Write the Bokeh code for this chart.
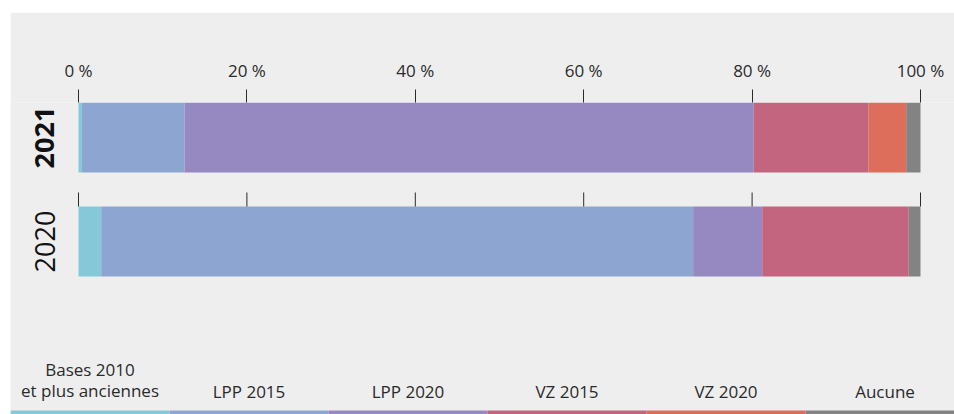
import math
from bokeh.plotting import figure
from bokeh.models import ColumnDataSource, Range1d, FixedTicker
from bokeh.core.properties import value
from bokeh.embed import file_html
from bokeh.resources import INLINE

# ---------------- data ----------------
categories = ["2021", "2020"]
category_styles = ["bold", "normal"]
series = ["Bases 2010 et plus anciennes", "LPP 2015", "LPP 2020", "VZ 2015", "VZ 2020", "Aucune"]
legend_labels = ["Bases 2010\net plus anciennes", "LPP 2015", "LPP 2020", "VZ 2015", "VZ 2020", "Aucune"]
bases_2010 = [0.4, 2.7]
lpp_2015 = [12.2, 70.3]
lpp_2020 = [67.6, 8.2]
vz_2015 = [13.6, 17.4]
vz_2020 = [4.5, 0.0]
aucune = [1.7, 1.4]
tick_values = [0, 20, 40, 60, 80, 100]
tick_labels = ["0 %", "20 %", "40 %", "60 %", "80 %", "100 %"]

colors = ["#85c9d9", "#8ca6d1", "#9689c1", "#c4657f", "#dc6e5b", "#838383"]

# ---------------- styling / layout (pixels) ----------------
FONT = "Open Sans"
BG = "#eeeeee"
TXT = "#2a2a2a"
W, H = 944, 402
TOP = 90                       # space for the axis above
LEFT_PX, RIGHT_PX = 68, 34     # where 0 % and 100 % sit inside the figure
PX_PER_PCT = (W - LEFT_PX - RIGHT_PX) / 100.0
PX_PER_UNIT = 104.0            # vertical pixels between bar centres
BAR_H = 70 / PX_PER_UNIT
TICK_LEN = 14 / PX_PER_UNIT
ITEM_W = 159                   # legend item width in px

pos = list(range(len(categories)))[::-1]
keys = ["s%d" % i for i in range(len(series))]
source = ColumnDataSource(dict(pos=pos, cat=categories, style=category_styles,
                               s0=bases_2010, s1=lpp_2015, s2=lpp_2020,
                               s3=vz_2015, s4=vz_2020, s5=aucune))

x0 = -LEFT_PX / PX_PER_PCT
x1 = 100 + RIGHT_PX / PX_PER_PCT
y_top = max(pos) + BAR_H / 2
y_bot = y_top - (H - TOP) / PX_PER_UNIT

p = figure(width=W, height=H, output_backend="svg", toolbar_location=None,
           x_range=Range1d(x0, x1), y_range=Range1d(y_bot, y_top),
           x_axis_location="above", min_border_left=0, min_border_right=0,
           min_border_top=TOP, min_border_bottom=0,
           background_fill_color=BG, border_fill_color=BG, outline_line_color=None,
           margin=(12, 0, 0, 10))

p.hbar_stack(keys, y="pos", height=BAR_H, color=colors, line_color=None, source=source)

# tick marks above the lower bar
lower_top = [min(pos) + BAR_H / 2] * len(tick_values)
p.segment(x0=tick_values, x1=tick_values, y0=lower_top,
          y1=[v + TICK_LEN for v in lower_top], line_color=TXT, line_width=1)

# year labels
p.text(x=0, y="pos", text="cat", source=source, angle=math.pi / 2,
       x_offset=-34, text_align="center", text_baseline="middle",
       text_font=value(FONT), text_font_size="27px", text_font_style="style",
       text_color="#111111")

ax = p.xaxis[0]
ax.ticker = FixedTicker(ticks=tick_values)
ax.major_label_overrides = {t: l for t, l in zip(tick_values, tick_labels)}
ax.axis_line_color = None
ax.major_tick_in = 0
ax.major_tick_out = 13
ax.major_tick_line_color = TXT
ax.minor_tick_line_color = None
ax.major_label_standoff = 8
ax.major_label_text_font = FONT
ax.major_label_text_font_size = "17px"
ax.major_label_text_color = TXT
p.yaxis.visible = False
p.xgrid.visible = False
p.ygrid.visible = False

# ---------------- legend strip along the bottom ----------------
n = len(series)
item_w = ITEM_W / PX_PER_PCT
lefts = [x0 + i * item_w for i in range(n)]
leg_src = ColumnDataSource(dict(left=lefts, right=[l + item_w for l in lefts],
                                mid=[l + item_w / 2 for l in lefts], color=colors,
                                label=legend_labels))
p.quad(left="left", right="right", bottom=y_bot, top=y_bot + 4 / PX_PER_UNIT,
       color="color", line_color=None, source=leg_src)
p.text(x="mid", y=y_bot + 12 / PX_PER_UNIT, text="label", source=leg_src,
       text_align="center", text_baseline="bottom", text_font=value(FONT),
       text_font_size="17px", text_color=TXT, text_line_height=0.95)

open("out.html", "w").write(file_html(p, INLINE))
